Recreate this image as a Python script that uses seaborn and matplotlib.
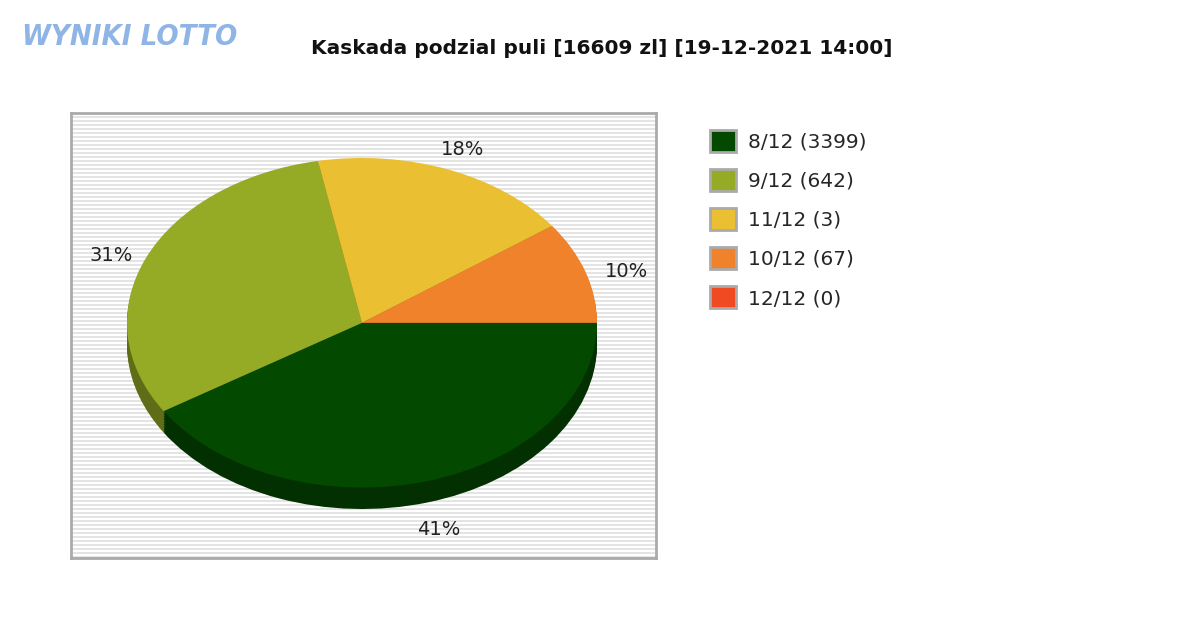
import matplotlib
matplotlib.use("Agg")
import matplotlib.pyplot as plt
import seaborn as sns
from matplotlib.patches import Patch

sns.set_theme(style="white")
plt.rcParams['font.family'] = ['DejaVu Sans']

categories = ["8/12 (3399)", "9/12 (642)", "11/12 (3)", "10/12 (67)", "12/12 (0)"]
shares = [41, 31, 18, 10, 0]
colors = ["#034a00", "#95aa25", "#eabf31", "#ef822b", "#f04a23"]
shadow = ["#023000", "#5f6d17", "#97791f", "#9a541b", "#9a3017"]
title = "Kaskada podzial puli [16609 zl] [19-12-2021 14:00]"

W, H = 1200, 630
fig = plt.figure(figsize=(12, 6.3), dpi=100)

bg = fig.add_axes([71/W, 1-558/H, 585/W, 445/H])
bg.set_xlim(0, 1); bg.set_ylim(0, 445)
for y in range(0, 445, 4):
    bg.axhspan(y, y+2, color="#e4e4e4", lw=0)
bg.set_xticks([]); bg.set_yticks([])
for s in bg.spines.values():
    s.set_color("#aaaaaa"); s.set_linewidth(2)

ax = fig.add_axes([127/W, 1-509/H, 470/W, 351/H])
for k in range(13, 0, -1):
    ax.pie(shares, colors=shadow, startangle=0, counterclock=False,
           center=(0, -k*0.01), radius=1, frame=True,
           wedgeprops=dict(linewidth=0))
labels = [f"{v}%" if v > 0 else "" for v in shares]
_, texts = ax.pie(shares, colors=colors, startangle=0, counterclock=False,
                  labels=labels, labeldistance=1.13, radius=1, frame=True,
                  textprops=dict(fontsize=14, color="#222222"),
                  wedgeprops=dict(linewidth=0))
x, y = texts[0].get_position()
texts[0].set_position((x - 0.08, y - 0.17))
x, y = texts[1].get_position()
texts[1].set_position((x + 0.06, y - 0.04))
x, y = texts[2].get_position()
texts[2].set_position((x - 0.08, y))
x, y = texts[3].get_position()
texts[3].set_position((x - 0.04, y - 0.04))
ax.set_xlim(-1, 1); ax.set_ylim(-1.13, 1)
ax.set_aspect("auto")
ax.axis("off")

fig.text(602/W, 1-48/H, title, ha="center", va="center",
         fontsize=14.5, fontweight="bold", color="#111111")
fig.text(22/W, 1-37/H, "WYNIKI LOTTO", ha="left", va="center", fontsize=21,
         fontweight="bold", color="#8fb4e6", fontstyle="italic", fontstretch="condensed")

handles = [Patch(facecolor=c, edgecolor="#aaaaaa", linewidth=2) for c in colors]
fig.legend(handles, categories, loc="upper left", bbox_to_anchor=(702/W, 1-122/H),
           frameon=False, fontsize=14.5, handlelength=1.3, handleheight=1.3,
           labelspacing=0.85, handletextpad=0.6, borderaxespad=0)

fig.savefig("out.png", dpi=100)
